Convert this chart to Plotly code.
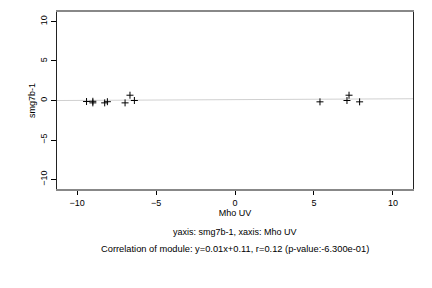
import plotly.graph_objects as go

x_vals = [-9.4, -9.0, -9.0, -8.25, -8.08, -6.96, -6.65, -6.37, 5.38, 7.09, 7.22, 7.89]
y_vals = [-0.13, -0.1, -0.3, -0.3, -0.15, -0.3, 0.67, 0.0, -0.17, 0.0, 0.67, -0.17]
slope, intercept = 0.01, 0.11
x_range = [-11.27, 11.27]
y_range = [-11.2, 11.2]
tick_vals = [-10, -5, 0, 5, 10]
x_title = "Mho UV"
y_title = "smg7b-1"
line1 = "yaxis: smg7b-1, xaxis: Mho UV"
line2 = "Correlation of module: y=0.01x+0.11, r=0.12 (p-value:-6.300e-01)"

font = "Liberation Sans, Arial, sans-serif"

fig = go.Figure()
fig.add_trace(go.Scatter(
    x=x_range, y=[slope * v + intercept for v in x_range], mode="lines",
    line=dict(color="#d0d0d0", width=1), hoverinfo="skip", showlegend=False))
fig.add_trace(go.Scatter(
    x=x_vals, y=y_vals, mode="markers",
    marker=dict(symbol="cross-thin", size=5, line=dict(color="black", width=1)),
    showlegend=False))

fig.update_layout(
    template="none",
    width=432, height=288,
    margin=dict(l=57, r=19, t=12, b=99),
    paper_bgcolor="white", plot_bgcolor="white",
    font=dict(family=font, size=9, color="black"),
    xaxis=dict(range=x_range, tickvals=tick_vals, ticks="outside", ticklen=4,
               tickcolor="black", showgrid=False, zeroline=False,
               tickfont=dict(color="black", size=9),
               showline=True, linecolor="#888888", linewidth=1.5, mirror=True,
               title=dict(text=x_title, font=dict(size=9, color="black"), standoff=3)),
    yaxis=dict(range=y_range, tickvals=tick_vals, ticks="outside", ticklen=5,
               tickcolor="black", showgrid=False, zeroline=False, tickangle=-90,
               tickfont=dict(color="black", size=9),
               showline=True, linecolor="#222222", linewidth=1.2, mirror=True,
               title=dict(text=y_title, font=dict(size=9, color="black"), standoff=2)),
    annotations=[
        dict(text=line1, x=0.5, y=232, xref="paper", yref="paper", showarrow=False,
             font=dict(size=9, color="black")),
        dict(text=line2, x=0.5, y=249, xref="paper", yref="paper", showarrow=False,
             font=dict(size=9.3, color="black")),
    ],
)
plot_h = 288 - 12 - 99
for ann in fig.layout.annotations:
    py = ann.y
    ann.y = (288 - 99 - py) / plot_h
    ann.yanchor = "middle"
    ann.x = (235 - 57) / (432 - 57 - 19)

fig.write_html("out.html")
